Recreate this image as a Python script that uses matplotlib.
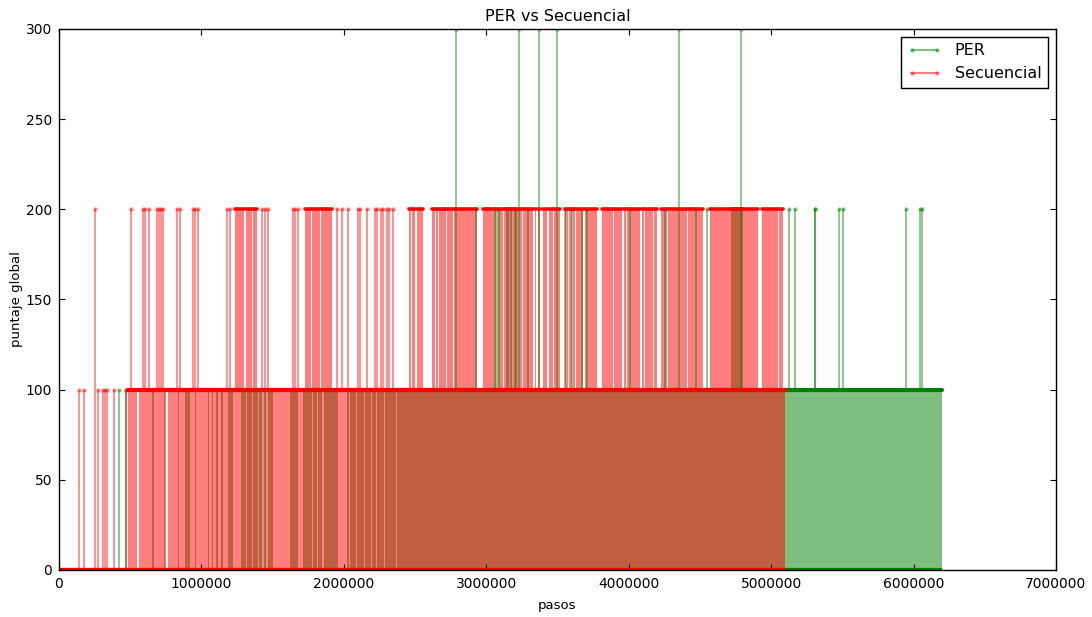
import numpy as np
import matplotlib
matplotlib.use("Agg")
from matplotlib import pyplot as plt
from matplotlib.lines import Line2D

M = 1e6  # las posiciones de abajo estan en millones de pasos

# ---------------- Secuencial ----------------
sec_fin = 5.10
# episodios sueltos con 100 antes de que se llene la zona
sec_100_sueltos = [0.14, 0.175, 0.275, 0.31, 0.325, 0.34, 0.385, 0.468]
# tramos donde el puntaje salta 0 <-> 100 sin parar
sec_100_tramos = [(0.485, 0.545), (0.563, 0.749), (0.763, 1.428), (1.434, 5.10)]
# picos de 200 (tramo con inicio == fin es un pico suelto)
sec_200_tramos = [
    (0.253, 0.253), (0.505, 0.505), (0.59, 0.59), (0.604, 0.604), (0.632, 0.632),
    (0.688, 0.688), (0.70, 0.70), (0.716, 0.716), (0.73, 0.73), (0.828, 0.828),
    (0.849, 0.849), (0.94, 0.94), (0.955, 0.955), (0.975, 0.975), (1.18, 1.18),
    (1.20, 1.20), (1.235, 1.30), (1.31, 1.355), (1.365, 1.39), (1.425, 1.425),
    (1.445, 1.445), (1.467, 1.467), (1.642, 1.642), (1.66, 1.66), (1.677, 1.677),
    (1.726, 1.77), (1.78, 1.83), (1.84, 1.92), (1.951, 1.951), (1.986, 1.986),
    (2.028, 2.028), (2.098, 2.098), (2.112, 2.112), (2.161, 2.161), (2.218, 2.218),
    (2.232, 2.232), (2.26, 2.26), (2.274, 2.274), (2.302, 2.302), (2.316, 2.316),
    (2.344, 2.344), (2.456, 2.47), (2.48, 2.50), (2.515, 2.555), (2.617, 2.64),
    (2.645, 2.66), (2.665, 2.70), (2.705, 2.72), (2.725, 2.77), (2.775, 2.935),
    (2.975, 3.01), (3.015, 3.07), (3.08, 3.12), (3.125, 3.16), (3.165, 3.20),
    (3.205, 3.25), (3.26, 3.33), (3.34, 3.35), (3.36, 3.38), (3.40, 3.43),
    (3.44, 3.47), (3.475, 3.515), (3.55, 3.575), (3.58, 3.60), (3.61, 3.62),
    (3.63, 3.68), (3.69, 3.78), (3.81, 3.89), (3.90, 3.95), (3.965, 3.98),
    (3.985, 4.08), (4.095, 4.11), (4.115, 4.17), (4.175, 4.20), (4.225, 4.27),
    (4.275, 4.41), (4.415, 4.45), (4.455, 4.52), (4.57, 4.905), (4.935, 5.05),
    (5.055, 5.085),
]

# ---------------- PER ----------------
per_fin = 6.20
per_100_sueltos = [0.418, 0.468]
per_100_tramos = [
    (0.656, 0.664), (0.737, 0.745), (0.836, 0.844), (0.885, 0.92), (0.955, 0.963),
    (1.046, 1.054), (1.076, 1.084), (1.106, 1.114), (1.141, 1.149), (1.19, 1.22),
    (1.28, 1.31), (1.32, 1.355), (1.365, 1.40), (1.405, 1.425), (1.428, 1.434),
    (1.44, 1.455), (1.47, 1.50), (1.62, 1.675), (1.71, 1.775), (1.785, 1.81),
    (1.82, 1.85), (1.858, 1.962), (2.02, 2.038), (2.046, 2.085), (2.094, 2.142),
    (2.152, 2.19), (2.20, 2.226), (2.236, 2.282), (2.292, 2.366), (2.376, 6.20),
]
per_200_tramos = [
    (2.93, 2.93), (3.06, 3.06), (3.075, 3.075), (3.09, 3.09), (3.14, 3.18),
    (3.20, 3.20), (3.21, 3.21), (3.29, 3.29), (3.55, 3.55), (3.60, 3.60),
    (3.67, 3.67), (3.71, 3.71), (4.01, 4.01), (4.255, 4.255), (4.47, 4.47),
    (4.55, 4.55), (4.72, 4.80), (5.125, 5.125), (5.165, 5.165), (5.305, 5.305),
    (5.31, 5.31), (5.476, 5.476), (5.502, 5.502), (5.947, 5.947), (6.045, 6.045),
    (6.057, 6.057),
]
per_300_tramos = [(2.787, 2.787), (3.23, 3.23), (3.37, 3.37), (3.496, 3.496),
                  (4.353, 4.353), (4.788, 4.788)]


def dentro(x, tramos):
    return any(a <= x <= b for a, b in tramos)


def serie(ax, color, fin, sueltos, tramos100, altos):
    a = 0.5
    # zona llena 0-100
    for i, j in tramos100:
        ax.fill_between([i * M, j * M], 0, 100, color=color, alpha=a, lw=0)
    # 100 sueltos
    for x in sueltos:
        base = 100 if dentro(x, tramos100) else 0
        ax.vlines(x * M, base, 100, color=color, alpha=a, lw=1.2)
    ax.plot(np.array(sueltos) * M, [100] * len(sueltos), 'o', color=color,
            alpha=a, ms=3, mew=0)
    # picos por encima de 100
    for valor, tramos in altos:
        for i, j in tramos:
            if j > i:
                ax.fill_between([i * M, j * M], 100, valor, color=color, alpha=a, lw=0)
                ax.hlines(valor, i * M, j * M, color=color, lw=2.6, capstyle='round')
            else:
                base = 100 if dentro(i, tramos100) else 0
                ax.vlines(i * M, base, valor, color=color, alpha=a, lw=1.2)
                ax.plot(i * M, valor, 'o', color=color, alpha=a, ms=3, mew=0)
    # filas de puntos en 0 y 100
    ini = min(t[0] for t in tramos100)
    ax.hlines(100, ini * M, fin * M, color=color, lw=3, capstyle='round')
    ax.hlines(0, 0, fin * M, color=color, lw=3)


fig = plt.figure(figsize=(10.92, 6.17), dpi=100)
ax = fig.add_axes([0.054, 0.0762, 0.913, 0.8768])

serie(ax, (0, 0.5, 0), per_fin, per_100_sueltos, per_100_tramos,
      [(200, per_200_tramos), (300, per_300_tramos)])
serie(ax, (1, 0, 0), sec_fin, sec_100_sueltos, sec_100_tramos,
      [(200, sec_200_tramos)])

ax.set_xlim(0, 7e6)
ax.set_ylim(0, 300)
ax.set_xticks(np.arange(0, 7e6 + 1, 1e6))
ax.set_yticks(np.arange(0, 301, 50))
ax.ticklabel_format(style='plain', useOffset=False)
ax.tick_params(direction='in', top=True, right=True, length=4, labelsize=10, pad=5)
for s in ax.spines.values():
    s.set_color('black')
    s.set_linewidth(1)

ax.set_title("PER vs Secuencial", fontsize=11.5, pad=6)
ax.set_xlabel("pasos", fontsize=9.5, labelpad=6)
ax.set_ylabel("puntaje global", fontsize=9.5, labelpad=2)

handles = [Line2D([], [], color=(0, 0.5, 0), alpha=0.5, marker='o', ms=3, mew=0),
           Line2D([], [], color=(1, 0, 0), alpha=0.5, marker='o', ms=3, mew=0)]
leg = ax.legend(handles, ["PER", "Secuencial"], loc='upper right', numpoints=2,
                fontsize=11.5, fancybox=False, framealpha=1, edgecolor='black',
                borderaxespad=0.5, handlelength=2.2)
leg.get_frame().set_linewidth(1)

fig.savefig("out.png", dpi=100)
